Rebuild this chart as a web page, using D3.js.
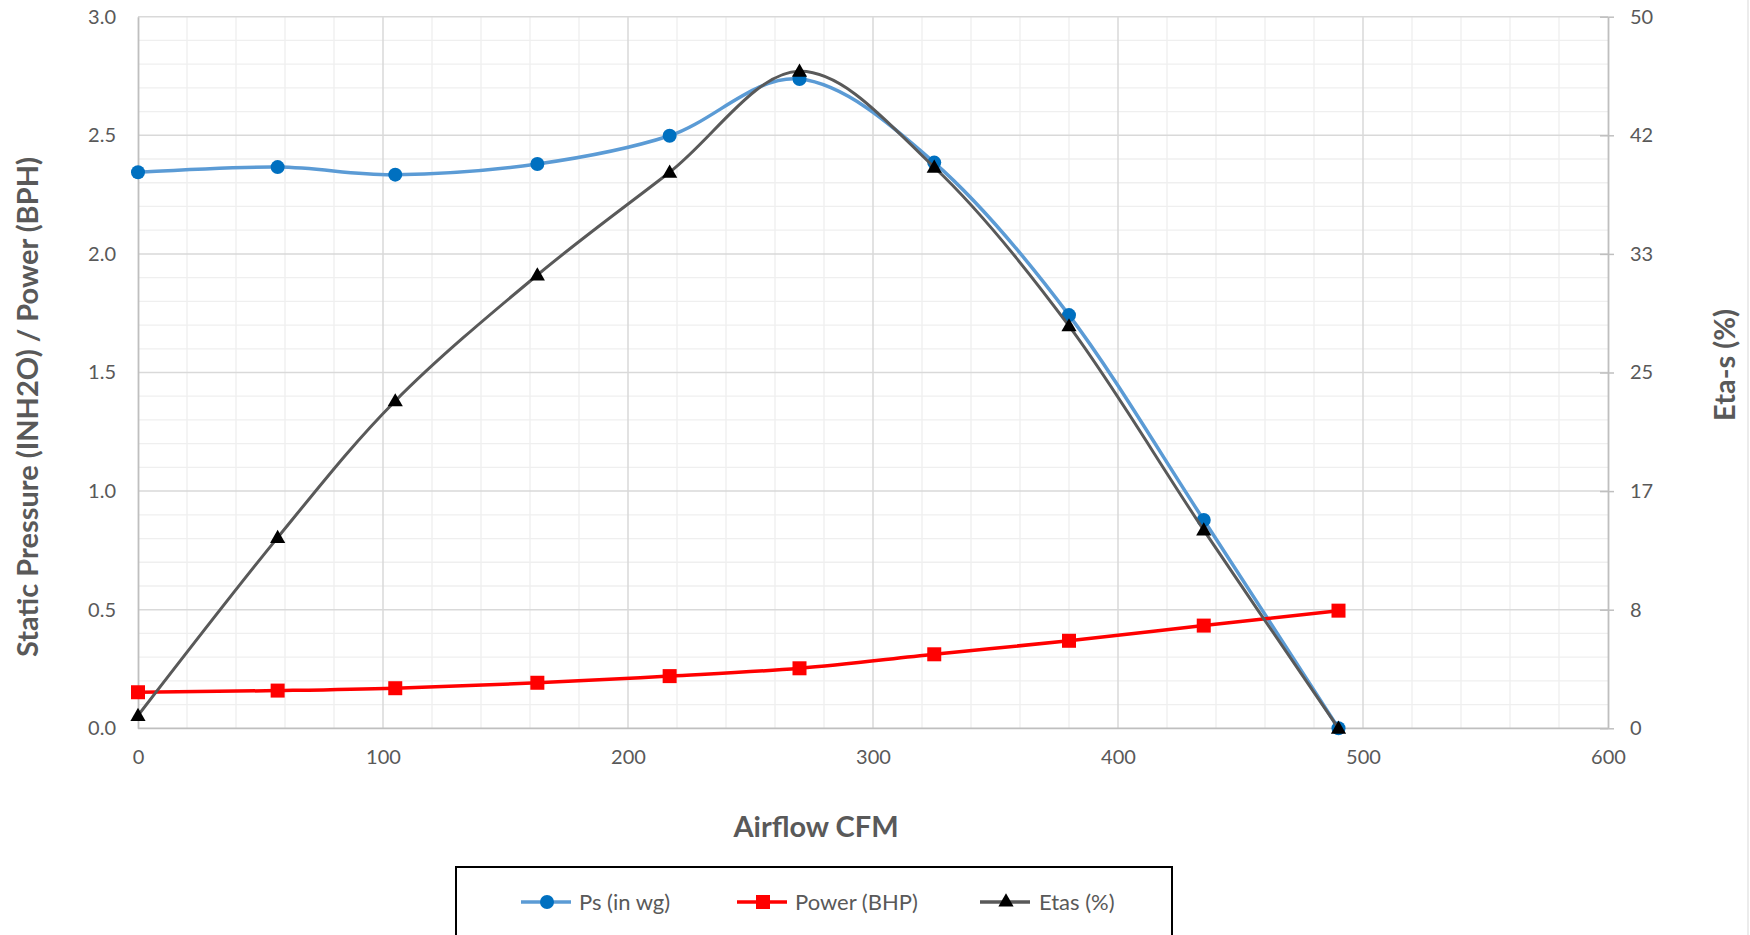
<!DOCTYPE html>
<html>
<head>
<meta charset="utf-8">
<script src="https://cdn.jsdelivr.net/npm/d3@7"></script>
<style>
  html, body { margin: 0; padding: 0; background: #fff; }
  svg { display: block; }
  text { font-family: Lato, "Open Sans", sans-serif; fill: #595959; }
</style>
</head>
<body>
<svg id="chart" width="1750" height="935"></svg>
<script>
// ---- data ----
const airflow = [0, 57, 105, 163, 217, 270, 325, 380, 435, 490];
const ps      = [2.344, 2.366, 2.334, 2.379, 2.498, 2.737, 2.385, 1.742, 0.878, 0.0];
const power   = [0.152, 0.159, 0.169, 0.192, 0.220, 0.253, 0.312, 0.369, 0.433, 0.496];
const etas    = [0.9, 13.4, 23.0, 31.85, 39.07, 46.16, 39.42, 28.27, 13.93, 0.0];

const xTicks = [0, 100, 200, 300, 400, 500, 600];
const yLeftTicks = [0, 0.5, 1.0, 1.5, 2.0, 2.5, 3.0];
const yRightTicks = [0, 50/6, 100/6, 25, 200/6, 250/6, 50];

const seriesNames = ["Ps (in wg)", "Power (BHP)", "Etas (%)"];

// ---- layout ----
const svg = d3.select("#chart");
const L = 138, R = 1608, T = 16.7, B = 728.3;

const x = d3.scaleLinear().domain([0, 600]).range([L, R]);
const yL = d3.scaleLinear().domain([0, 3]).range([B, T]);
const yR = d3.scaleLinear().domain([0, 50]).range([B, T]);

// right edge frame line
svg.append("line").attr("x1", 1748).attr("x2", 1748).attr("y1", 0).attr("y2", 935)
  .attr("stroke", "#d9d9d9").attr("stroke-width", 1);

// ---- gridlines ----
const grid = svg.append("g");
const minorX = d3.range(0, 601, 20).filter(v => v % 100 !== 0);
const minorY = d3.range(0, 31, 1).map(v => v / 10).filter((v, i) => i % 5 !== 0);
grid.selectAll(".mx").data(minorX).join("line")
  .attr("x1", d => x(d)).attr("x2", d => x(d)).attr("y1", T).attr("y2", B)
  .attr("stroke", "#efefef").attr("stroke-width", 1.3);
grid.selectAll(".my").data(minorY).join("line")
  .attr("x1", L).attr("x2", R).attr("y1", d => yL(d)).attr("y2", d => yL(d))
  .attr("stroke", "#efefef").attr("stroke-width", 1.3);
grid.selectAll(".Mx").data(xTicks.filter(v => v > 0 && v < 600)).join("line")
  .attr("x1", d => x(d)).attr("x2", d => x(d)).attr("y1", T).attr("y2", B)
  .attr("stroke", "#d9d9d9").attr("stroke-width", 1.5);
grid.selectAll(".My").data(yLeftTicks.filter(v => v > 0)).join("line")
  .attr("x1", L).attr("x2", R).attr("y1", d => yL(d)).attr("y2", d => yL(d))
  .attr("stroke", "#d9d9d9").attr("stroke-width", 1.5);

// ---- axes ----
const axisColor = "#bfbfbf";
const gx = svg.append("g").attr("transform", `translate(0,${B})`)
  .call(d3.axisBottom(x).tickValues(xTicks).tickSize(0).tickPadding(22).tickFormat(d3.format("d")));
const gyl = svg.append("g").attr("transform", `translate(${L},0)`)
  .call(d3.axisLeft(yL).tickValues(yLeftTicks).tickSize(0).tickPadding(22).tickFormat(d3.format(".1f")));
const gyr = svg.append("g").attr("transform", `translate(${R},0)`)
  .call(d3.axisRight(yR).tickValues(yRightTicks).tickSizeInner(6).tickSizeOuter(0).tickPadding(16)
    .tickFormat(d => Math.round(d)));
gyr.selectAll(".tick line").attr("x1", -8).attr("x2", 6).attr("stroke", axisColor).attr("stroke-width", 1.5);
[gx, gyl, gyr].forEach(g => {
  g.select(".domain").attr("stroke", axisColor).attr("stroke-width", 1.8);
  g.selectAll(".tick text").style("font-family", "Lato, sans-serif").style("font-size", "20px").attr("fill", "#595959");
});
gx.select(".domain").attr("d", `M${L},0H${R}`);

// ---- axis titles ----
svg.append("text").attr("x", 816).attr("y", 837).attr("text-anchor", "middle")
  .style("font-size", "29px").style("font-weight", "bold").text("Airflow CFM");
svg.append("text").attr("transform", "translate(38,407) rotate(-90)").attr("text-anchor", "middle")
  .style("font-size", "29px").style("font-weight", "bold").text("Static Pressure (INH2O) / Power (BPH)");
svg.append("text").attr("transform", "translate(1735,365) rotate(-90)").attr("text-anchor", "middle")
  .style("font-size", "29px").style("font-weight", "bold").text("Eta-s (%)");

// ---- series ----
const curve = d3.curveCardinal.tension(0);
const psData = airflow.map((a, i) => [a, ps[i]]);
const pwData = airflow.map((a, i) => [a, power[i]]);
const etData = airflow.map((a, i) => [a, etas[i]]);

const lineL = d3.line().x(d => x(d[0])).y(d => yL(d[1])).curve(curve);
const lineR = d3.line().x(d => x(d[0])).y(d => yR(d[1])).curve(curve);

const tri = d3.symbol().type(d3.symbolTriangle).size(100);

// Ps
svg.append("path").datum(psData).attr("d", lineL).attr("fill", "none")
  .attr("stroke", "#5b9bd5").attr("stroke-width", 3.5).attr("stroke-linejoin", "round");
svg.selectAll(".psm").data(psData).join("circle")
  .attr("cx", d => x(d[0])).attr("cy", d => yL(d[1])).attr("r", 7).attr("fill", "#0070c0");

// Power
svg.append("path").datum(pwData).attr("d", lineL).attr("fill", "none")
  .attr("stroke", "#ff0000").attr("stroke-width", 3.5).attr("stroke-linejoin", "round");
svg.selectAll(".pwm").data(pwData).join("rect")
  .attr("x", d => x(d[0]) - 7).attr("y", d => yL(d[1]) - 7).attr("width", 14).attr("height", 14).attr("fill", "#ff0000");

// Etas
svg.append("path").datum(etData).attr("d", lineR).attr("fill", "none")
  .attr("stroke", "#595959").attr("stroke-width", 3).attr("stroke-linejoin", "round");
svg.selectAll(".etm").data(etData).join("path")
  .attr("d", tri).attr("transform", d => `translate(${x(d[0])},${yR(d[1]) + 1})`).attr("fill", "#000");

// ---- legend ----
const lg = svg.append("g");
lg.append("rect").attr("x", 456).attr("y", 867).attr("width", 716).attr("height", 100)
  .attr("fill", "#fff").attr("stroke", "#000").attr("stroke-width", 2);
const legendItems = [
  { name: seriesNames[0], x0: 521, color: "#5b9bd5", mcolor: "#0070c0", type: "circle", tx: 579 },
  { name: seriesNames[1], x0: 737, color: "#ff0000", mcolor: "#ff0000", type: "square", tx: 795 },
  { name: seriesNames[2], x0: 980, color: "#595959", mcolor: "#000", type: "tri", tx: 1039 }
];
const ly = 902;
legendItems.forEach(it => {
  lg.append("line").attr("x1", it.x0).attr("x2", it.x0 + 50).attr("y1", ly).attr("y2", ly)
    .attr("stroke", it.color).attr("stroke-width", 3.5);
  const cx = it.x0 + 26;
  if (it.type === "circle") lg.append("circle").attr("cx", cx).attr("cy", ly).attr("r", 7).attr("fill", it.mcolor);
  else if (it.type === "square") lg.append("rect").attr("x", cx - 7).attr("y", ly - 7).attr("width", 14).attr("height", 14).attr("fill", it.mcolor);
  else lg.append("path").attr("d", tri).attr("transform", `translate(${cx},${ly})`).attr("fill", it.mcolor);
  lg.append("text").attr("x", it.tx).attr("y", ly).attr("dy", "0.35em")
    .style("font-size", "22px").text(it.name);
});
</script>
</body>
</html>
